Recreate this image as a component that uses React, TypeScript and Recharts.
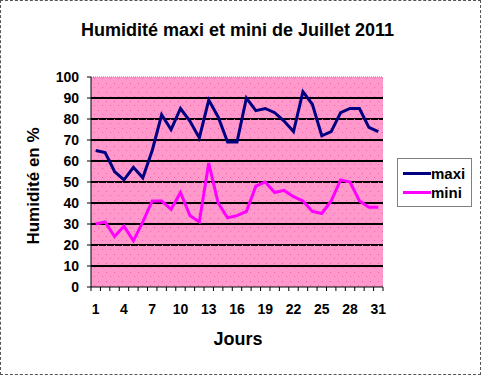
import { CartesianGrid, Line, LineChart, ReferenceArea, ReferenceLine, XAxis, YAxis } from 'recharts'

const days = Array.from({ length: 31 }, (_, i) => i + 1)
const maxi = [65, 64, 55, 51, 57, 52, 65, 82, 75, 85, 79, 71, 89, 81, 69, 69, 90, 84, 85, 83, 79, 74, 93, 87, 72, 74, 83, 85, 85, 76, 74]
const mini = [30, 31, 24, 29, 22, 31, 41, 41, 37, 45, 34, 31, 59, 40, 33, 34, 36, 48, 50, 45, 46, 43, 41, 36, 35, 41, 51, 50, 41, 38, 38]
const dayLabels = [1, 4, 7, 10, 13, 16, 19, 22, 25, 28, 31]
const dayBounds = Array.from({ length: 32 }, (_, i) => i + 0.5)
const yTicks = [0, 10, 20, 30, 40, 50, 60, 70, 80, 90, 100]

const data = days.map((d, i) => ({ day: d, maxi: maxi[i], mini: mini[i] }))

const font = '"Liberation Sans", Arial, sans-serif'

const series = [
  { name: 'maxi', color: '#000080' },
  { name: 'mini', color: '#ff00ff' },
]

const LegendBox = () => (
  <div
    style={{
      position: 'absolute',
      left: 396,
      top: 157,
      width: 75,
      height: 49,
      boxSizing: 'border-box',
      border: '1px solid #808080',
      background: '#fff',
      fontSize: 15,
      fontWeight: 'bold',
      padding: '5px 0 0 5px',
      lineHeight: 1,
    }}
  >
    {series.map((e) => (
      <div key={e.name} style={{ display: 'flex', alignItems: 'center', height: 19 }}>
        <div style={{ width: 28, height: 3, background: e.color }} />
        <span>{e.name}</span>
      </div>
    ))}
  </div>
)

export default function App() {
  return (
    <div
      style={{
        position: 'absolute',
        left: 0,
        top: 0,
        width: 481,
        height: 375,
        boxSizing: 'border-box',
        border: '1px dashed #555',
        background: '#fff',
        fontFamily: font,
      }}
    >
      <svg width={0} height={0} style={{ position: 'absolute' }}>
        <defs>
          <pattern id="dots" width={8} height={9} patternUnits="userSpaceOnUse">
            <rect x={2} y={2} width={1} height={1} fill="#ee62b0" />
            <rect x={6} y={6} width={1} height={1} fill="#ee62b0" />
          </pattern>
        </defs>
      </svg>
      <div
        style={{
          position: 'absolute',
          left: 0,
          top: 19,
          width: 473,
          textAlign: 'center',
          fontWeight: 'bold',
          fontSize: 18,
        }}
      >
        Humidité maxi et mini de Juillet 2011
      </div>
      <div
        style={{
          position: 'absolute',
          left: 33,
          top: 185,
          transform: 'translate(-50%, -50%) rotate(-90deg)',
          whiteSpace: 'nowrap',
          fontWeight: 'bold',
          fontSize: 17,
        }}
      >
        Humidité en %
      </div>
      <div
        style={{
          position: 'absolute',
          left: 0,
          top: 328,
          width: 474,
          textAlign: 'center',
          fontWeight: 'bold',
          fontSize: 18,
        }}
      >
        Jours
      </div>
      <div style={{ position: 'absolute', left: -1, top: -1 }}>
        <LineChart width={481} height={375} data={data} margin={{ top: 77, right: 98, bottom: 58, left: 0 }}>
          <CartesianGrid
            xAxisId="axis1"
            vertical={false}
            horizontalValues={[10, 20, 30, 40, 50, 60, 70, 80, 90]}
            stroke="#000"
            strokeWidth={2}
            fill="#ff99cc"
            fillOpacity={1}
          />
          <XAxis
            xAxisId="axis1"
            dataKey="day"
            type="number"
            domain={[0.5, 31.5]}
            ticks={dayBounds}
            interval={0}
            tickFormatter={() => ''}
            tickSize={4}
            axisLine={{ stroke: '#000' }}
            tickLine={{ stroke: '#000' }}
            height={2}
          />
          <XAxis
            xAxisId="axis2"
            dataKey="day"
            type="number"
            domain={[0.5, 31.5]}
            ticks={dayLabels}
            interval={0}
            axisLine={false}
            tickLine={false}
            tickSize={0}
            tickMargin={15}
            tick={{ fill: '#000', fontSize: 14, fontWeight: 'bold', fontFamily: font }}
            height={28}
          />
          <YAxis
            domain={[0, 100]}
            ticks={yTicks}
            interval={0}
            width={91}
            tickSize={4}
            tickMargin={8}
            axisLine={{ stroke: '#000' }}
            tickLine={{ stroke: '#000' }}
            tick={{ fill: '#000', fontSize: 14, fontWeight: 'bold', fontFamily: font }}
          />
          <ReferenceArea xAxisId="axis1" x1={0.5} x2={31.5} y1={0} y2={100} fill="url(#dots)" fillOpacity={1} stroke="none" />
          <ReferenceLine xAxisId="axis1" y={100} stroke="#808080" strokeDasharray="1 1" />
          <Line
            xAxisId="axis1"
            dataKey="maxi"
            stroke="#000080"
            strokeWidth={3}
            dot={false}
            isAnimationActive={false}
          />
          <Line
            xAxisId="axis1"
            dataKey="mini"
            stroke="#ff00ff"
            strokeWidth={3}
            dot={false}
            isAnimationActive={false}
          />
        </LineChart>
      </div>
      <LegendBox />
    </div>
  )
}
